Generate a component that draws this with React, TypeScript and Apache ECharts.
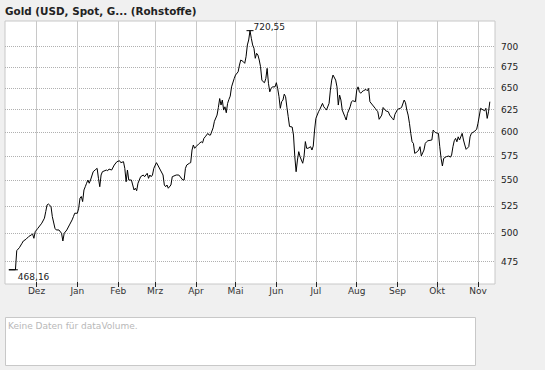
import React, { useEffect, useRef } from 'react';
import * as echarts from 'echarts';

const chartTitle = 'Gold (USD, Spot, G... (Rohstoffe)';
const volumeNote = 'Keine Daten für dataVolume.';

const dates = [
  '2005-11-10','2005-11-15','2005-11-16','2005-11-18','2005-11-20','2005-11-21','2005-11-23','2005-11-25','2005-11-27','2005-11-28','2005-11-29','2005-11-30',
  '2005-12-02','2005-12-05','2005-12-07','2005-12-08','2005-12-09','2005-12-10','2005-12-12','2005-12-13','2005-12-15','2005-12-16','2005-12-18','2005-12-20',
  '2005-12-21','2005-12-22','2005-12-24','2005-12-26','2005-12-28','2005-12-29','2005-12-30',
  '2006-01-01','2006-01-02','2006-01-03','2006-01-04','2006-01-05','2006-01-06','2006-01-07','2006-01-08','2006-01-09','2006-01-10','2006-01-11','2006-01-13',
  '2006-01-15','2006-01-16','2006-01-17','2006-01-18','2006-01-19','2006-01-20','2006-01-23','2006-01-24','2006-01-25','2006-01-27','2006-01-29','2006-01-31',
  '2006-02-02','2006-02-03','2006-02-05','2006-02-06','2006-02-07','2006-02-08','2006-02-09','2006-02-11','2006-02-12','2006-02-13','2006-02-14','2006-02-15',
  '2006-02-16','2006-02-18','2006-02-20','2006-02-21','2006-02-23','2006-02-24','2006-02-25','2006-02-26','2006-02-27','2006-02-28',
  '2006-03-02','2006-03-03','2006-03-05','2006-03-07','2006-03-08','2006-03-09','2006-03-10','2006-03-11','2006-03-13','2006-03-14','2006-03-17','2006-03-19',
  '2006-03-22','2006-03-23','2006-03-24','2006-03-25','2006-03-27','2006-03-28','2006-03-29','2006-03-30','2006-03-31',
  '2006-04-01','2006-04-03','2006-04-05','2006-04-06','2006-04-07','2006-04-08','2006-04-10','2006-04-11','2006-04-12','2006-04-14','2006-04-15','2006-04-17',
  '2006-04-18','2006-04-19','2006-04-20','2006-04-21','2006-04-22','2006-04-23','2006-04-24','2006-04-25','2006-04-26','2006-04-27','2006-04-28','2006-04-30',
  '2006-05-01','2006-05-03','2006-05-04','2006-05-05','2006-05-07','2006-05-08','2006-05-09','2006-05-10','2006-05-11','2006-05-12','2006-05-13','2006-05-14',
  '2006-05-15','2006-05-16','2006-05-17','2006-05-18','2006-05-19','2006-05-20','2006-05-21','2006-05-22','2006-05-23','2006-05-24','2006-05-25','2006-05-26',
  '2006-05-27','2006-05-28','2006-05-29','2006-05-31',
  '2006-06-01','2006-06-02','2006-06-03','2006-06-04','2006-06-05','2006-06-06','2006-06-07','2006-06-08','2006-06-09','2006-06-10','2006-06-11','2006-06-13',
  '2006-06-14','2006-06-15','2006-06-16','2006-06-17','2006-06-18','2006-06-19','2006-06-20','2006-06-21','2006-06-22','2006-06-23','2006-06-24','2006-06-25',
  '2006-06-27','2006-06-28','2006-06-29','2006-06-30',
  '2006-07-01','2006-07-02','2006-07-03','2006-07-04','2006-07-06','2006-07-07','2006-07-08','2006-07-09','2006-07-11','2006-07-12','2006-07-13','2006-07-14',
  '2006-07-16','2006-07-17','2006-07-18','2006-07-19','2006-07-20','2006-07-21','2006-07-23','2006-07-24','2006-07-25','2006-07-27','2006-07-28','2006-07-29','2006-07-31',
  '2006-08-01','2006-08-02','2006-08-03','2006-08-04','2006-08-05','2006-08-06','2006-08-08','2006-08-09','2006-08-10','2006-08-11','2006-08-13','2006-08-15',
  '2006-08-16','2006-08-17','2006-08-18','2006-08-20','2006-08-21','2006-08-23','2006-08-25','2006-08-26','2006-08-28','2006-08-29','2006-08-30',
  '2006-09-01','2006-09-03','2006-09-04','2006-09-06','2006-09-07','2006-09-08','2006-09-09','2006-09-10','2006-09-11','2006-09-12','2006-09-13','2006-09-14',
  '2006-09-16','2006-09-17','2006-09-18','2006-09-19','2006-09-21','2006-09-22','2006-09-23','2006-09-24','2006-09-27','2006-09-28','2006-09-29','2006-09-30',
  '2006-10-02','2006-10-03','2006-10-04','2006-10-05','2006-10-06','2006-10-08','2006-10-10','2006-10-11','2006-10-12','2006-10-13','2006-10-14','2006-10-15',
  '2006-10-16','2006-10-17','2006-10-18','2006-10-20','2006-10-21','2006-10-22','2006-10-23','2006-10-25','2006-10-26','2006-10-27','2006-10-29','2006-10-31',
  '2006-11-01','2006-11-02','2006-11-03','2006-11-05','2006-11-06','2006-11-07','2006-11-08','2006-11-09','2006-11-10',
];

const prices = [
  468.16,468.16,484.6,487.2,491.1,493.1,494.6,497.0,498.5,499.4,495.5,501.4,
  504.5,509.2,513.8,519.9,526.2,527.1,524.7,515.2,504.5,503.0,503.0,500.0,
  493.1,500.0,503.0,507.6,512.2,515.2,518.4,
  518.4,523.1,532.7,534.3,529.4,540.6,543.8,547.2,550.4,547.2,550.4,558.7,
  561.1,562.1,552.1,543.8,555.4,558.7,560.4,559.7,561.4,560.4,565.5,568.9,
  569.9,567.9,568.9,562.1,548.7,560.4,550.4,550.4,545.5,540.6,542.3,539.9,
  547.2,553.7,555.4,553.7,557.1,552.1,555.4,553.7,555.4,562.1,
  567.9,565.5,560.4,555.4,545.5,543.8,545.5,542.3,545.5,553.7,555.4,555.4,
  550.4,550.4,562.1,565.5,567.3,567.9,581.0,586.3,582.8,
  584.5,587.3,589.7,588.6,593.3,595.0,598.7,596.9,596.9,604.7,611.9,618.8,
  627.3,637.5,630.1,635.8,624.4,628.1,621.4,632.0,636.5,640.3,651.1,660.9,
  665.1,669.0,677.2,683.4,681.3,679.3,687.4,702.2,708.5,720.55,710.7,702.2,
  698.0,685.5,691.7,689.6,683.4,675.2,659.1,657.1,656.0,660.9,673.2,655.3,
  645.3,649.2,651.1,651.1,
  656.0,649.2,639.7,626.4,633.9,635.8,642.6,639.7,627.6,617.0,606.2,605.6,
  596.9,574.1,558.7,570.6,579.3,574.1,570.6,567.3,574.1,589.9,582.8,582.8,
  584.5,581.0,585.2,602.3,
  615.1,618.8,622.5,625.2,632.0,628.1,626.4,624.4,632.0,647.3,659.1,665.1,
  659.1,651.1,630.1,641.5,635.8,624.4,617.0,613.3,620.7,628.1,633.9,635.0,633.9,
  647.3,651.1,645.4,643.6,645.4,646.5,648.1,646.5,649.2,633.9,630.1,626.4,
  624.4,622.5,614.1,618.8,627.3,623.6,622.5,618.8,615.1,613.3,619.7,
  625.2,626.4,627.3,635.8,632.7,624.4,618.8,609.7,598.7,589.7,588.0,577.5,
  579.3,581.0,584.5,574.8,581.0,588.0,589.7,590.8,591.6,602.3,600.5,599.4,
  598.7,584.5,572.4,564.5,572.4,574.1,574.8,573.5,575.8,584.5,590.8,593.3,
  589.7,595.0,591.6,598.7,591.6,586.3,581.7,584.5,595.0,598.7,600.5,603.1,
  609.7,617.7,626.4,624.4,623.6,626.4,615.1,622.5,633.9,
];

const monthTicks = [
  '2005-12-01','2006-01-01','2006-02-01','2006-03-01','2006-04-01','2006-05-01',
  '2006-06-01','2006-07-01','2006-08-01','2006-09-01','2006-10-01','2006-11-01',
];
const monthLabels = ['Dez','Jan','Feb','Mrz','Apr','Mai','Jun','Jul','Aug','Sep','Okt','Nov'];
const priceTicks = [475, 500, 525, 550, 575, 600, 625, 650, 675, 700];

const FONT = 'DejaVu Sans';

function toTime(s: string): number {
  const [y, m, d] = s.split('-').map(Number);
  return new Date(y, m - 1, d).getTime();
}

const monthTickTimes = monthTicks.map(toTime);

export default function App() {
  const ref = useRef<HTMLDivElement>(null);
  useEffect(() => {
    if (!ref.current) return;
    const chart = echarts.init(ref.current, null, { renderer: 'svg' });
    const seriesData = dates.map((d, i) => [toTime(d), prices[i]]);
    const fmt = (v: number) => String(v).replace('.', ',');
    const option: any = {
      animation: false,
      backgroundColor: '#f0f0f0',
      textStyle: { fontFamily: FONT },
      title: {
        text: chartTitle,
        left: 5,
        top: 6,
        padding: 0,
        textStyle: { fontFamily: FONT, fontSize: 10.4, fontWeight: 'bold', color: '#222' },
      },
      grid: {
        left: 5,
        right: 50,
        top: 21,
        bottom: 86,
        show: true,
        backgroundColor: '#ffffff',
        borderColor: '#c8c8c8',
        borderWidth: 1,
        containLabel: false,
        outerBoundsMode: 'none',
      },
      xAxis: {
        type: 'value',
        min: new Date(2005, 10, 7, 2).getTime(),
        max: new Date(2006, 10, 13, 22).getTime(),
        offset: -2,
        axisLine: { show: false },
        axisTick: { show: true, customValues: monthTickTimes, length: 5, lineStyle: { color: '#222', width: 1 } },
        axisLabel: {
          customValues: monthTickTimes,
          margin: 4,
          fontSize: 9,
          fontFamily: FONT,
          color: '#333',
          formatter: (v: number) => {
            const i = monthTickTimes.indexOf(v);
            return i >= 0 ? monthLabels[i] : '';
          },
        },
        splitLine: { show: true, lineStyle: { color: '#c8c8c8', width: 1, type: 'solid' } },
      },
      yAxis: {
        type: 'log',
        logBase: 10,
        position: 'right',
        min: 456.3,
        max: 733.2,
        axisLine: { show: false },
        axisTick: { show: false, customValues: priceTicks },
        axisLabel: {
          customValues: priceTicks,
          margin: 6,
          fontSize: 9,
          fontFamily: FONT,
          color: '#222',
          formatter: (v: number) => String(Math.round(v)),
        },
        splitLine: { show: true, lineStyle: { color: '#b0b0b0', width: 1, type: [1, 1] } },
      },
      series: [
        {
          type: 'line',
          data: seriesData,
          showSymbol: false,
          symbol: 'none',
          lineStyle: { color: '#000', width: 1 },
          markPoint: {
            symbol: 'rect',
            symbolSize: [7, 1],
            itemStyle: { color: '#000' },
            label: {
              show: true,
              position: 'right',
              distance: 0,
              color: '#222',
              fontSize: 9,
              fontFamily: FONT,
              formatter: (p: any) => fmt(p.value),
            },
            data: [
              { type: 'max', label: { offset: [0, -4] } },
              { type: 'min', symbolSize: [9, 1], symbolOffset: [4.5, 0], label: { offset: [0, 7] } },
            ],
          },
        },
      ],
      graphic: [
        {
          type: 'rect',
          shape: { x: 5.5, y: 317.5, width: 470, height: 48 },
          style: { fill: '#ffffff', stroke: '#c8c8c8', lineWidth: 1 },
        },
        {
          type: 'text',
          x: 8,
          y: 326,
          style: { text: volumeNote, fill: '#b8b8b8', fontSize: 9, fontFamily: FONT, verticalAlign: 'middle' },
        },
      ],
    };
    chart.setOption(option);
    return () => chart.dispose();
  }, []);
  return <div ref={ref} style={{ position: 'absolute', left: 0, top: 0, width: 545, height: 370 }} />;
}
